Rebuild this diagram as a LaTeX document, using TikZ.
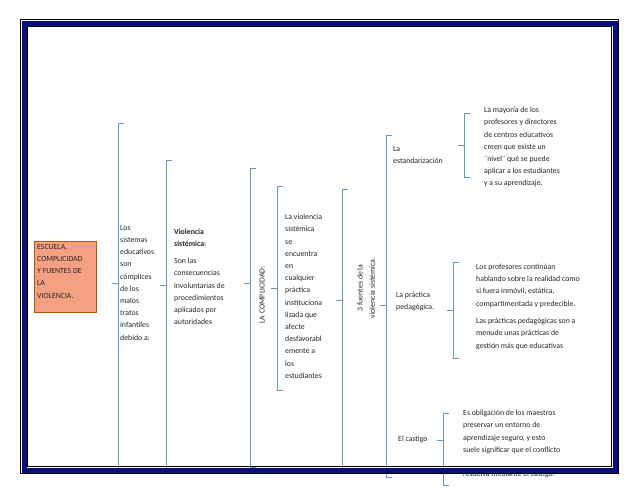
\documentclass[tikz,border=0pt]{standalone}
\usepackage{fontspec}
\setmainfont{Carlito}
\begin{document}
\begin{tikzpicture}[x=1pt,y=-1pt,
  br/.style={draw=brc,line width=0.8pt},
  txt/.style={anchor=north west,align=left,inner sep=0pt,font=\fontsize{7.8}{12.2}\selectfont,text=black!85}]
\definecolor{brc}{HTML}{6A96BE}
\definecolor{navy}{HTML}{0A0F78}
\useasboundingbox (0,0) rectangle (638,493);
\fill[white] (0,0) rectangle (638,493);
% brackets: x, top, bottom, tick
\newcommand\brk[4]{\draw[br] (#1+6,#2)--(#1,#2)--(#1,#3)--(#1+6,#3); \draw[br] (#1,#4)--(#1-6,#4);}
\brk{118}{123}{470}{283}
\brk{166}{160}{470}{285}
\brk{250}{168}{467}{283}
\brk{277}{186}{390}{288}
\brk{342}{189}{470}{300}
\brk{386}{135}{477}{305}
\brk{464}{113}{177}{145}
\brk{453}{262}{358}{310}
\brk{443}{413}{485}{440}
% title box
\node[draw=orange!70!black,fill={rgb,255:red,245;green,160;blue,130},minimum width=62pt,minimum height=71pt,anchor=north west] (box) at (34,241) {};
\node[txt] (t0) at (37,244) {ESCUELA,\\COMPLICIDAD\\Y FUENTES DE\\LA\\VIOLENCIA.};
\node[txt] (t1) at (120,225) {Los\\sistemas\\educativos\\son\\cómplices\\de los\\malos\\tratos\\infantiles\\debido a:};
\node[txt] (t2) at (174,229) {\textbf{Violencia}\\\textbf{sistémica:}};
\node[txt] (t3) at (174,258) {Son las\\consecuencias\\involuntarias de\\procedimientos\\aplicados por\\autoridades};
\node[txt,rotate=90,anchor=center] (t4) at (262,295) {LA COMPLICIDAD:};
\node[txt] (t5) at (285,214) {La violencia\\sistémica\\se\\encuentra\\en\\cualquier\\práctica\\instituciona\\lizada que\\afecte\\desfavorabl\\emente a\\los\\estudiantes};
\node[txt,rotate=90,anchor=center,align=center] (t6) at (366,288) {3 fuentes de la\\violencia sistémica.};
\node[txt] (t7) at (393,146) {La\\estandarización};
\node[txt] (t8) at (484,107) {La mayoría de los\\profesores y directores\\de centros educativos\\creen que existe un\\¨nivel¨ qué se puede\\aplicar a los estudiantes\\y a su aprendizaje.};
\node[txt] (t9) at (396,292) {La práctica\\pedagógica.};
\node[txt] (t10) at (476,264) {Los profesores continúan\\hablando sobre la realidad como\\si fuera inmóvil, estática,\\compartimentada y predecible.};
\node[txt] (t11) at (476,318) {Las prácticas pedagógicas son a\\menudo unas prácticas de\\gestión  más que educativas};
\node[txt] (t12) at (398,436) {El castigo};
\node[txt] (t13) at (463,410) {Es obligación de los maestros\\preservar un entorno de\\aprendizaje seguro, y esto\\suele significar que el conflicto\\\\resuelva mediante el castigo.};
% page border
\draw[navy,line width=5pt] (24,23) rectangle (615,470);
\draw[black,line width=0.4pt] (20.5,19.5) rectangle (618.5,473.5);
\draw[black,line width=0.4pt] (27.5,26.5) rectangle (611.5,466.5);
\end{tikzpicture}
\end{document}
